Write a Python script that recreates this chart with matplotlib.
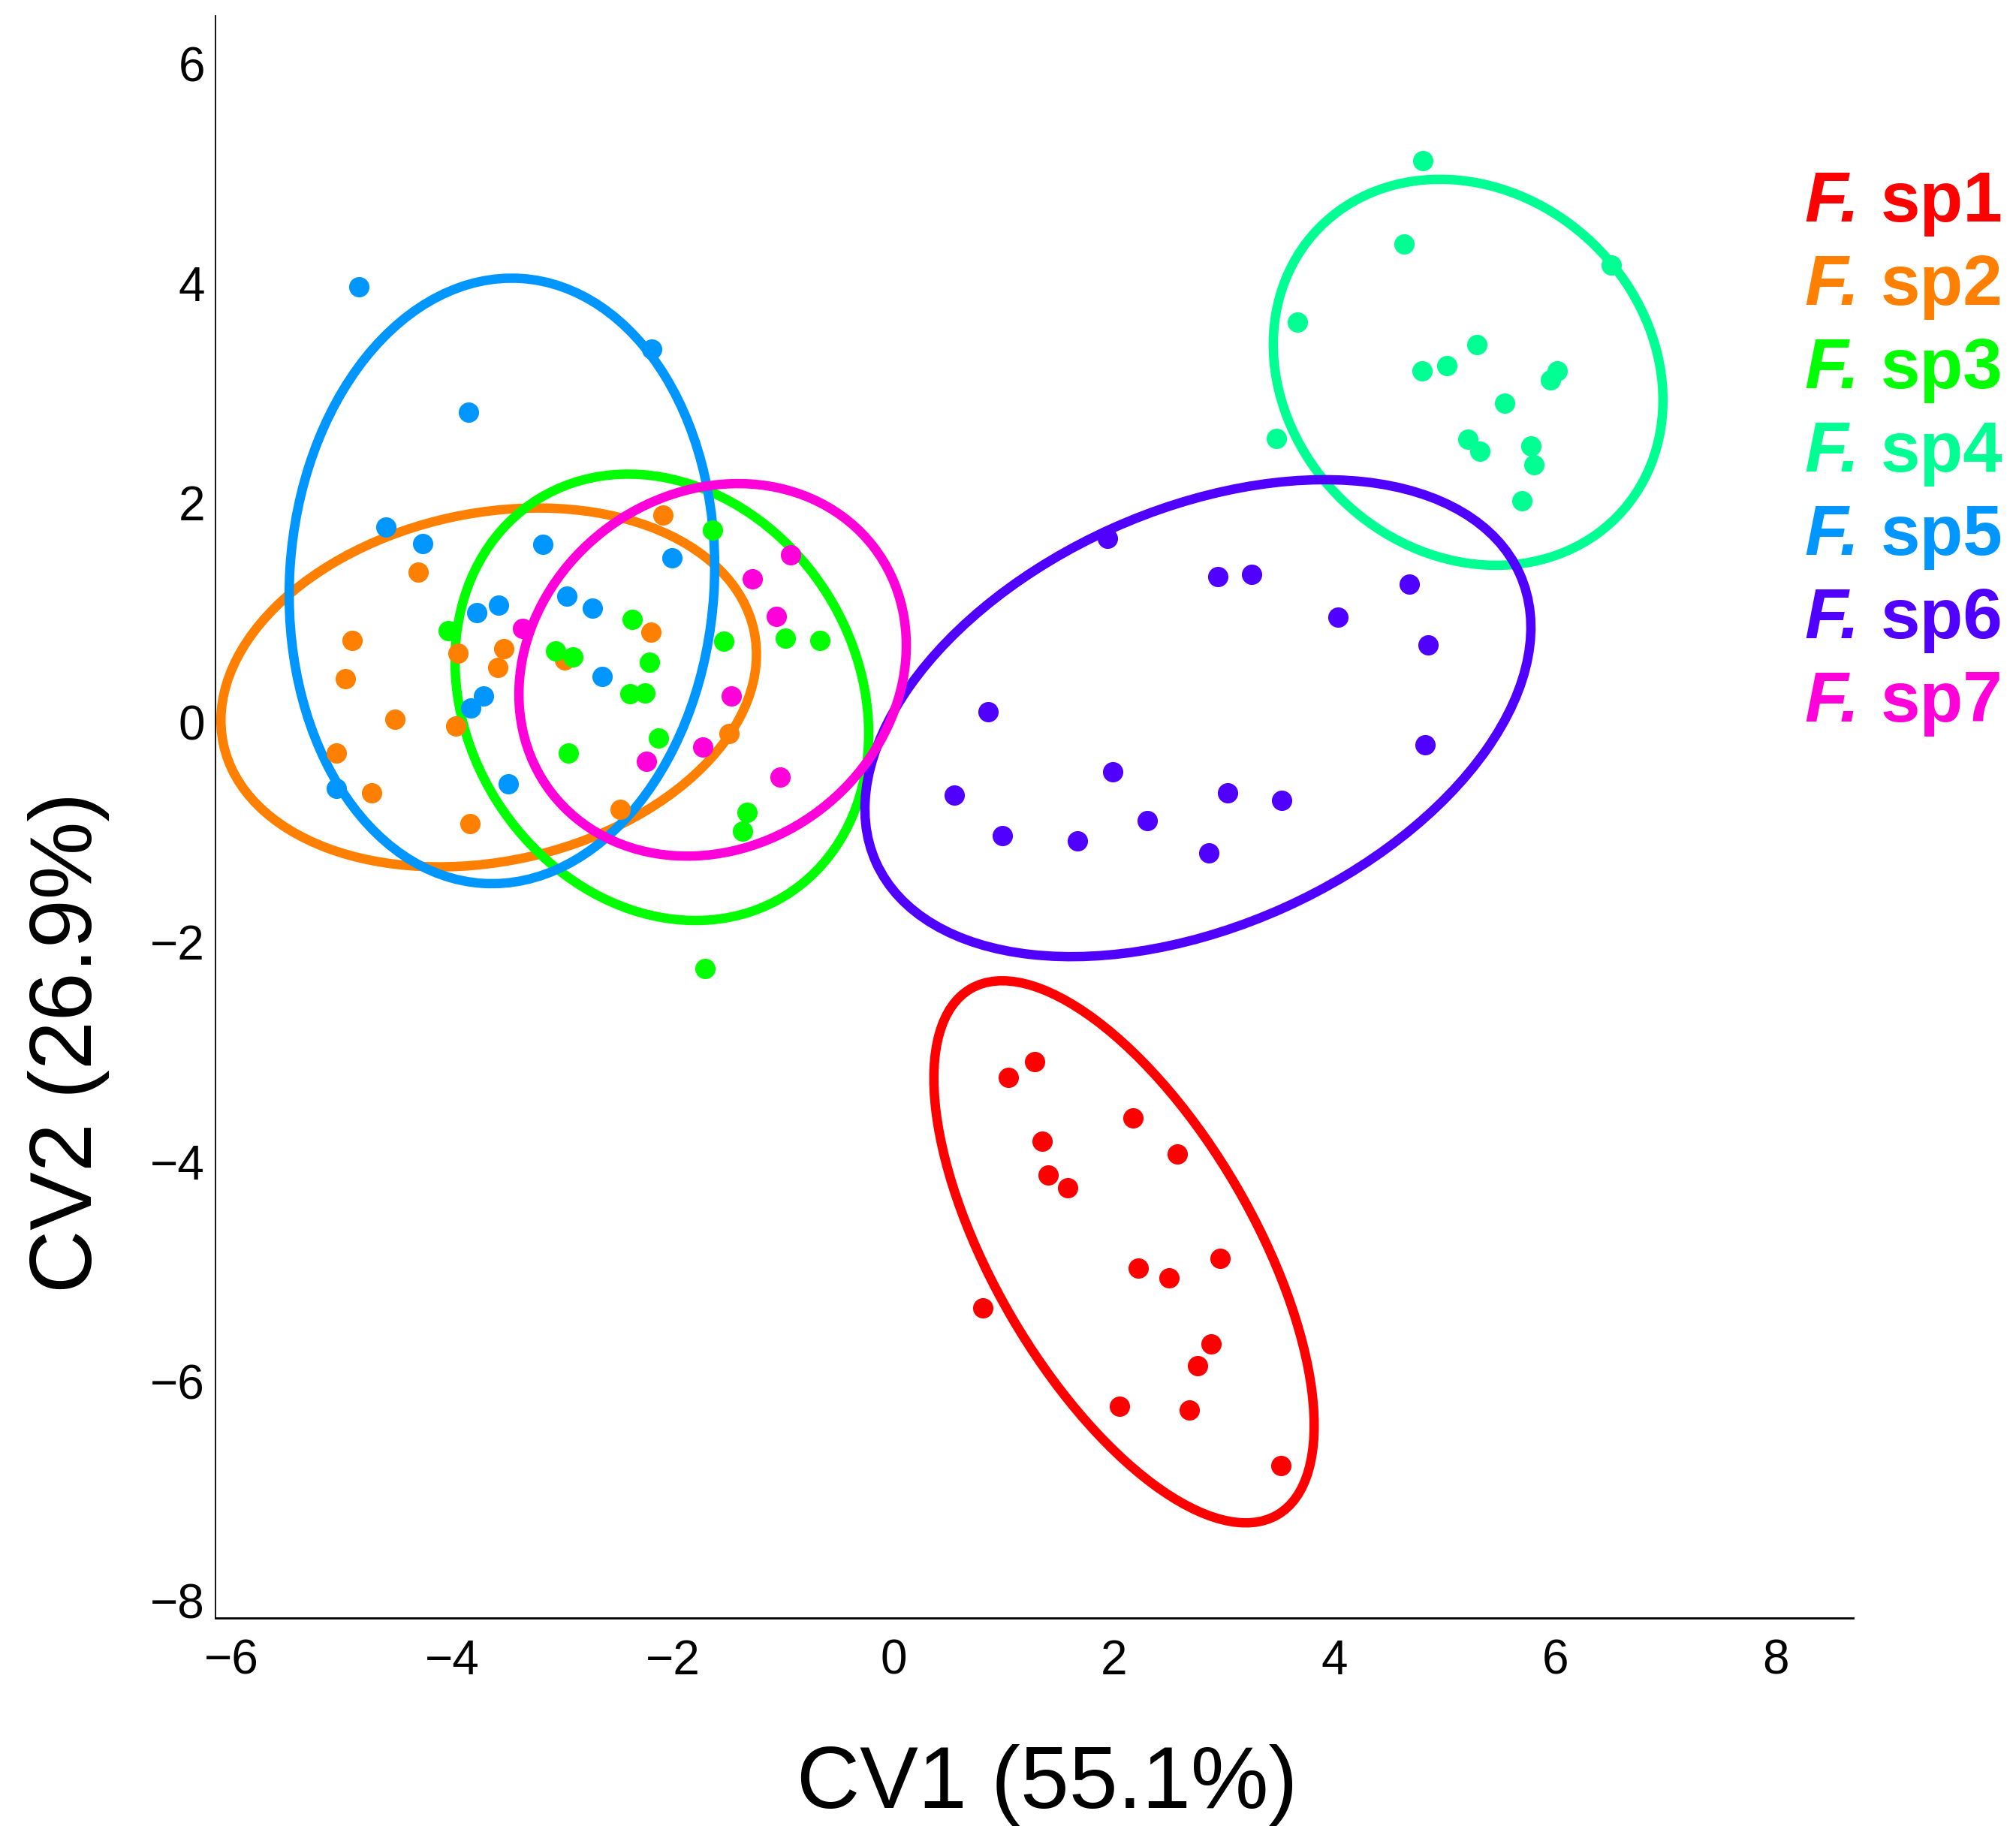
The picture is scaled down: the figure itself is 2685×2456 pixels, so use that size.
import matplotlib.pyplot as plt
from matplotlib.patches import Ellipse

plt.rcParams['font.family'] = ['Liberation Sans', 'DejaVu Sans']

# species names and colours
species = ['sp1', 'sp2', 'sp3', 'sp4', 'sp5', 'sp6', 'sp7']
colors = ['#FF0000', '#FF8000', '#00FF00', '#00FF92', '#0096FF', '#5000FF', '#FF00DB']

# CV scores
sp1_x = [1.28, 1.04, 2.17, 1.35, 2.57, 1.40, 1.58, 2.96, 2.22, 2.50, 0.81, 2.88, 2.76, 2.05, 2.68, 3.51]
sp1_y = [-3.09, -3.23, -3.60, -3.81, -3.93, -4.12, -4.24, -4.88, -4.97, -5.06, -5.33, -5.66, -5.86, -6.23, -6.26, -6.77]

sp2_x = [-4.91, -4.97, -4.52, -5.05, -4.73, -4.31, -3.95, -3.53, -3.59, -3.97, -3.84, -2.09, -2.20, -2.98, -1.49, -2.48]
sp2_y = [0.75, 0.40, 0.03, -0.28, -0.64, 1.37, 0.63, 0.67, 0.50, -0.03, -0.92, 1.89, 0.82, 0.57, -0.10, -0.79]

sp3_x = [-4.04, -3.06, -2.91, -2.37, -1.64, -2.21, -2.39, -2.25, -1.54, -0.98, -0.67, -2.13, -2.95, -1.33, -1.37, -1.71]
sp3_y = [0.84, 0.65, 0.60, 0.94, 1.75, 0.55, 0.26, 0.27, 0.74, 0.77, 0.75, -0.14, -0.28, -0.82, -0.99, -2.24]

sp4_x = [4.80, 4.63, 6.51, 3.66, 5.29, 4.79, 5.02, 6.02, 5.96, 5.54, 3.47, 5.21, 5.32, 5.78, 5.81, 5.70]
sp4_y = [5.12, 4.36, 4.17, 3.65, 3.44, 3.20, 3.25, 3.20, 3.12, 2.91, 2.59, 2.58, 2.47, 2.52, 2.35, 2.02]

sp5_x = [-4.85, -2.19, -3.85, -4.60, -4.27, -3.18, -2.01, -2.96, -2.73, -3.58, -3.78, -2.64, -3.72, -3.83, -3.49, -5.05]
sp5_y = [3.97, 3.40, 2.83, 1.78, 1.63, 1.62, 1.50, 1.15, 1.04, 1.07, 1.00, 0.42, 0.24, 0.13, -0.56, -0.60]

sp6_x = [1.94, 2.94, 3.25, 4.68, 4.03, 4.85, 0.86, 4.82, 1.99, 0.55, 3.03, 3.52, 2.30, 0.99, 1.67, 2.86]
sp6_y = [1.68, 1.33, 1.35, 1.26, 0.96, 0.71, 0.10, -0.20, -0.45, -0.66, -0.64, -0.71, -0.89, -1.03, -1.08, -1.19]

sp7_x = [-3.36, -0.93, -1.28, -1.06, -1.47, -1.73, -2.24, -1.03]
sp7_y = [0.86, 1.53, 1.31, 0.97, 0.24, -0.22, -0.35, -0.50]

xs = [sp1_x, sp2_x, sp3_x, sp4_x, sp5_x, sp6_x, sp7_x]
ys = [sp1_y, sp2_y, sp3_y, sp4_y, sp5_y, sp6_y, sp7_y]

# 95% ellipses (centre, full width, full height, angle in degrees)
ell_cx = [2.09, -3.67, -2.10, 5.21, -3.55, 2.76, -1.64]
ell_cy = [-4.82, 0.32, 0.23, 3.19, 1.29, 0.04, 0.48]
ell_w = [5.54, 4.92, 4.25, 3.77, 5.52, 6.40, 3.68]
ell_h = [2.36, 3.17, 3.54, 3.26, 3.85, 3.79, 3.21]
ell_ang = [-59.9, 12.2, -58.2, -44.0, 86.4, 24.3, 37.6]

W, H = 2685, 2456
fig = plt.figure(figsize=(W / 100, H / 100), dpi=100)
ax = fig.add_axes([287 / W, 1 - 2155 / H, (2468 - 287) / W, (2155 - 21) / H])

for i in range(len(species)):
    ax.add_patch(Ellipse((ell_cx[i], ell_cy[i]), ell_w[i], ell_h[i], angle=ell_ang[i],
                         fill=False, edgecolor=colors[i], linewidth=9))

for i in range(len(species)):
    ax.plot(xs[i], ys[i], 'o', color=colors[i], markersize=19.5, markeredgewidth=0)

ax.set_xlim(-6.147, 8.70)
ax.set_ylim(-8.155, 6.437)
ax.set_xticks(range(-6, 9, 2))
ax.set_yticks(range(-8, 7, 2))

for s in ['top', 'right']:
    ax.spines[s].set_visible(False)
ax.spines['left'].set_linewidth(1.3)
ax.spines['bottom'].set_linewidth(2)
ax.tick_params(axis='both', length=0, labelsize=46)
ax.tick_params(axis='x', pad=20)
ax.tick_params(axis='y', pad=10)

ax.set_xlabel('CV1 (55.1%)', fontsize=84, va='baseline')
ax.xaxis.set_label_coords(0.508, -0.1186)
ax.set_ylabel('CV2 (26.9%)', fontsize=84, va='baseline')
ax.yaxis.set_label_coords(-0.0757, 0.359)

# legend written as coloured text
for i, name in enumerate(species):
    y = 1 - (295 + i * 111) / H
    fig.text(2403 / W, y, 'F.', color=colors[i], fontsize=68, style='italic',
             weight='bold', va='baseline', ha='left')
    fig.text(2505 / W, y, name, color=colors[i], fontsize=68, weight='bold',
             va='baseline', ha='left')

fig.savefig('out.png', dpi=100)
